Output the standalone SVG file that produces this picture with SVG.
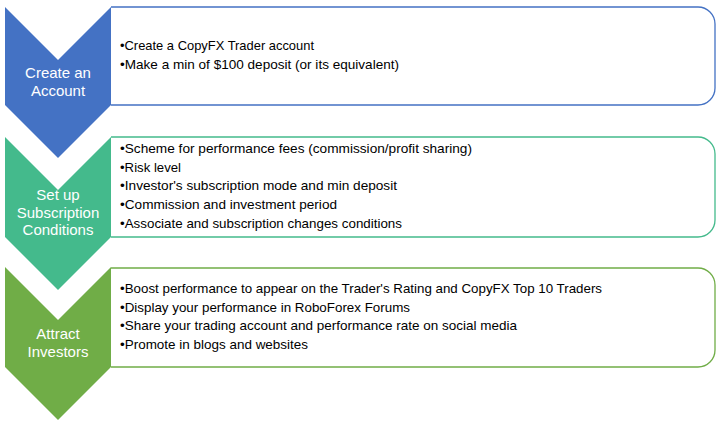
<svg xmlns="http://www.w3.org/2000/svg" width="722" height="427" viewBox="0 0 722 427">
<style>
.box{fill:#fff;stroke-width:1.3}
.item{font-family:"Liberation Sans",Arial,sans-serif;font-size:13.5px;fill:#000}
.lbl{font-family:"Liberation Sans",Arial,sans-serif;font-size:15px;fill:#fff;text-anchor:middle}
</style>
<rect width="722" height="427" fill="#fff"/>
<g id="step1">
<path class="box" stroke="#4472C4" d="M111,7 H698 A17,17 0 0 1 715,24 V88 A17,17 0 0 1 698,105 H111"/>
<path fill="#4472C4" d="M5,7 L58,60 L111,7 V105 L58,158 L5,105 Z"/>
<text class="lbl" x="58" y="78">Create an</text>
<text class="lbl" x="58" y="96">Account</text>
<text class="item" x="120" y="50" textLength="194" lengthAdjust="spacingAndGlyphs">•Create a CopyFX Trader account</text>
<text class="item" x="120" y="69" textLength="279" lengthAdjust="spacingAndGlyphs">•Make a min of $100 deposit (or its equivalent)</text>
</g>
<g id="step2">
<path class="box" stroke="#44BA8C" d="M111,137 H698 A17,17 0 0 1 715,154 V220 A17,17 0 0 1 698,237 H111"/>
<path fill="#44BA8C" d="M5,137 L58,190 L111,137 V237 L58,290 L5,237 Z"/>
<text class="lbl" x="58" y="200">Set up</text>
<text class="lbl" x="58" y="218">Subscription</text>
<text class="lbl" x="58" y="235">Conditions</text>
<text class="item" x="120" y="153" textLength="352" lengthAdjust="spacingAndGlyphs">•Scheme for performance fees (commission/profit sharing)</text>
<text class="item" x="120" y="172" textLength="61" lengthAdjust="spacingAndGlyphs">•Risk level</text>
<text class="item" x="120" y="190" textLength="277" lengthAdjust="spacingAndGlyphs">•Investor's subscription mode and min deposit</text>
<text class="item" x="120" y="209" textLength="217" lengthAdjust="spacingAndGlyphs">•Commission and investment period</text>
<text class="item" x="120" y="228" textLength="282" lengthAdjust="spacingAndGlyphs">•Associate and subscription changes conditions</text>
</g>
<g id="step3">
<path class="box" stroke="#70AD47" d="M111,268 H698 A17,17 0 0 1 715,285 V350 A17,17 0 0 1 698,367 H111"/>
<path fill="#70AD47" d="M5,267 L58,320 L111,267 V367 L58,420 L5,367 Z"/>
<text class="lbl" x="58" y="339">Attract</text>
<text class="lbl" x="58" y="357">Investors</text>
<text class="item" x="120" y="293" textLength="482" lengthAdjust="spacingAndGlyphs">•Boost performance to appear on the Trader's Rating and CopyFX Top 10 Traders</text>
<text class="item" x="120" y="312" textLength="290" lengthAdjust="spacingAndGlyphs">•Display your performance in RoboForex Forums</text>
<text class="item" x="120" y="330" textLength="397" lengthAdjust="spacingAndGlyphs">•Share your trading account and performance rate on social media</text>
<text class="item" x="120" y="349" textLength="188" lengthAdjust="spacingAndGlyphs">•Promote in blogs and websites</text>
</g>
<g id="connectors"></g>
</svg>
